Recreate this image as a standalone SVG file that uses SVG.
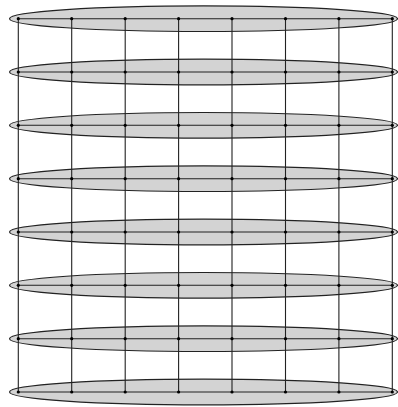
<svg xmlns="http://www.w3.org/2000/svg" width="398" height="407" viewBox="0 0 398 407">
<style>
.cl{fill:#d3d3d3;stroke:#222;stroke-width:1.2}
.e{stroke:#222;stroke-width:1.1;fill:none}
.v{fill:#000}
</style>
<rect width="398" height="407" fill="#fff"/>
<g id="clusters">
<ellipse id="row1" class="cl" cx="203.5" cy="18.7" rx="194" ry="12.8"/>
<ellipse id="row2" class="cl" cx="203.5" cy="72" rx="194" ry="12.8"/>
<ellipse id="row3" class="cl" cx="203.5" cy="125.3" rx="194" ry="12.8"/>
<ellipse id="row4" class="cl" cx="203.5" cy="178.7" rx="194" ry="12.8"/>
<ellipse id="row5" class="cl" cx="203.5" cy="232" rx="194" ry="12.8"/>
<ellipse id="row6" class="cl" cx="203.5" cy="285.3" rx="194" ry="12.8"/>
<ellipse id="row7" class="cl" cx="203.5" cy="338.7" rx="194" ry="12.8"/>
<ellipse id="row8" class="cl" cx="203.5" cy="392" rx="194" ry="12.8"/>
</g>
<g id="connectors">
<path class="e" d="M18.3 18.7H392.3M18.3 72H392.3M18.3 125.3H392.3M18.3 178.7H392.3M18.3 232H392.3M18.3 285.3H392.3M18.3 338.7H392.3M18.3 392H392.3"/>
<path class="e" d="M18.3 18.7V392M71.7 18.7V392M125.2 18.7V392M178.6 18.7V392M232 18.7V392M285.5 18.7V392M338.9 18.7V392M392.3 18.7V392"/>
</g>
<defs><g id="dots">
<circle class="v" cx="18.3" r="1.6"/><circle class="v" cx="71.7" r="1.6"/><circle class="v" cx="125.2" r="1.6"/><circle class="v" cx="178.6" r="1.6"/><circle class="v" cx="232" r="1.6"/><circle class="v" cx="285.5" r="1.6"/><circle class="v" cx="338.9" r="1.6"/><circle class="v" cx="392.3" r="1.6"/>
</g></defs>
<g id="nodes">
<g id="n1"><use href="#dots" y="18.7"/></g>
<g id="n2"><use href="#dots" y="72"/></g>
<g id="n3"><use href="#dots" y="125.3"/></g>
<g id="n4"><use href="#dots" y="178.7"/></g>
<g id="n5"><use href="#dots" y="232"/></g>
<g id="n6"><use href="#dots" y="285.3"/></g>
<g id="n7"><use href="#dots" y="338.7"/></g>
<g id="n8"><use href="#dots" y="392"/></g>
</g>
</svg>
